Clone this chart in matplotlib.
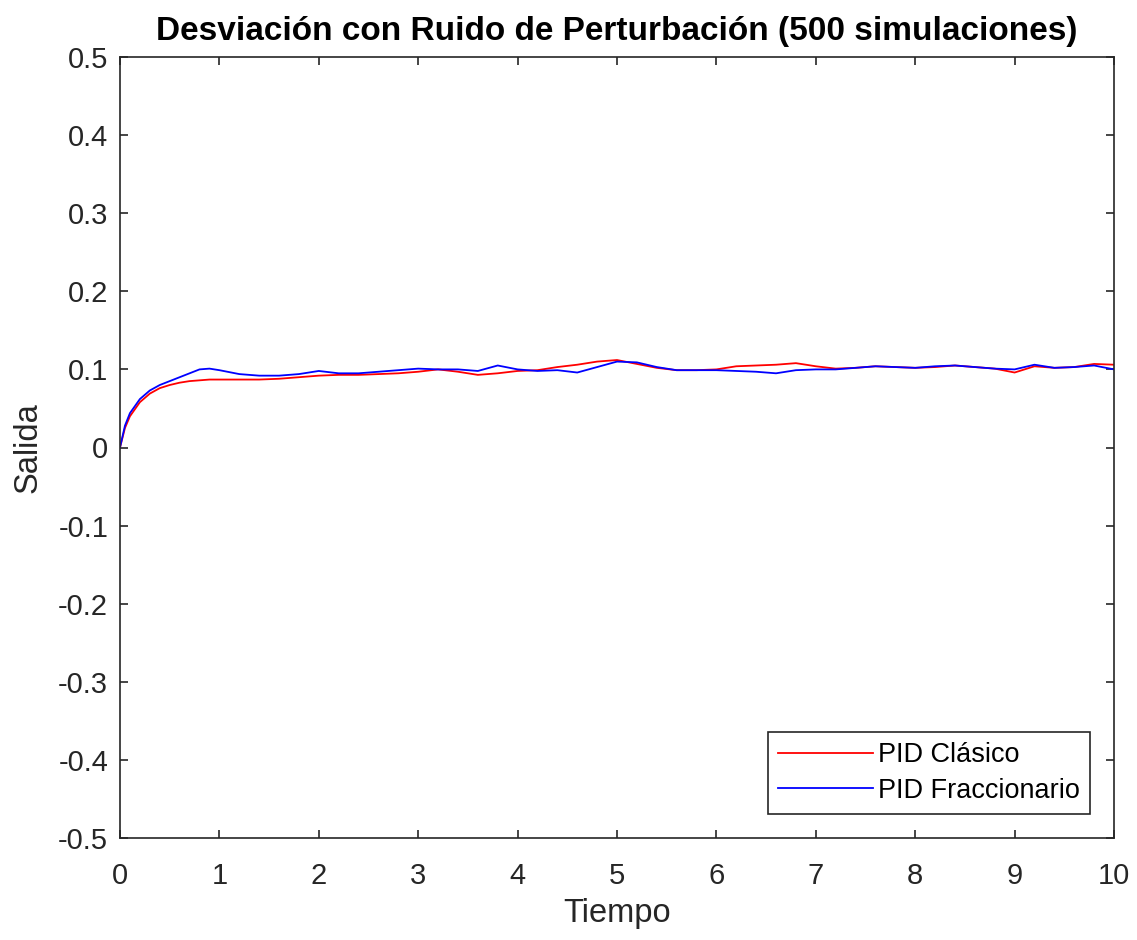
import numpy as np
import matplotlib.pyplot as plt

plt.rcParams['font.family'] = ['Liberation Sans', 'DejaVu Sans']

# mean deviation over 500 noisy runs
t = [0, 0.05, 0.1, 0.2, 0.3, 0.4, 0.5, 0.6, 0.7, 0.8, 0.9, 1.0, 1.2, 1.4, 1.6, 1.8,
     2.0, 2.2, 2.4, 2.6, 2.8, 3.0, 3.2, 3.4, 3.6, 3.8, 4.0, 4.2, 4.4, 4.6, 4.8, 5.0,
     5.2, 5.4, 5.6, 5.8, 6.0, 6.2, 6.4, 6.6, 6.8, 7.0, 7.2, 7.4, 7.6, 7.8, 8.0, 8.2,
     8.4, 8.6, 8.8, 9.0, 9.2, 9.4, 9.6, 9.8, 10.0]

pid_clasico = [0, 0.025, 0.040, 0.058, 0.069, 0.076, 0.080, 0.083, 0.085, 0.086, 0.087,
               0.087, 0.087, 0.087, 0.088, 0.090, 0.092, 0.093, 0.093, 0.094, 0.095, 0.097,
               0.100, 0.097, 0.093, 0.095, 0.098, 0.099, 0.103, 0.106, 0.110, 0.112, 0.107,
               0.102, 0.099, 0.099, 0.100, 0.104, 0.105, 0.106, 0.108, 0.104, 0.101, 0.102,
               0.104, 0.103, 0.102, 0.103, 0.105, 0.103, 0.101, 0.096, 0.104, 0.102, 0.103,
               0.107, 0.106]

pid_fracc = [0, 0.028, 0.044, 0.062, 0.073, 0.080, 0.085, 0.090, 0.095, 0.100, 0.101,
             0.099, 0.094, 0.092, 0.092, 0.094, 0.098, 0.095, 0.095, 0.097, 0.099, 0.101,
             0.100, 0.100, 0.098, 0.105, 0.100, 0.098, 0.099, 0.096, 0.103, 0.110, 0.109,
             0.103, 0.099, 0.099, 0.099, 0.098, 0.097, 0.095, 0.099, 0.100, 0.100, 0.102,
             0.104, 0.103, 0.102, 0.104, 0.105, 0.103, 0.101, 0.100, 0.106, 0.102, 0.103,
             0.105, 0.100]

xticks = list(range(0, 11))
yticks = [-0.5, -0.4, -0.3, -0.2, -0.1, 0, 0.1, 0.2, 0.3, 0.4, 0.5]
ytick_labels = ['-0.5', '-0.4', '-0.3', '-0.2', '-0.1', '0', '0.1', '0.2', '0.3', '0.4', '0.5']

fig = plt.figure(figsize=(11.37, 9.40), dpi=100)
ax = fig.add_axes([120/1137, 1 - 838/940, (1114-120)/1137, (838-57)/940])

ax.plot(t, pid_clasico, color=(1, 0, 0), lw=1.3, label='PID Clásico')
ax.plot(t, pid_fracc, color=(0, 0, 1), lw=1.3, label='PID Fraccionario')

ax.set_xlim(0, 10)
ax.set_ylim(-0.5, 0.5)
ax.set_xticks(xticks)
ax.set_yticks(yticks)
ax.set_yticklabels(ytick_labels)

gray = (0.15, 0.15, 0.15)
for s in ax.spines.values():
    s.set_color(gray)
    s.set_linewidth(1.2)
ax.tick_params(direction='in', length=6, width=1.2, top=True, right=True,
               labelsize=21, colors=gray)
ax.tick_params(axis='x', pad=17.5)
ax.tick_params(axis='y', pad=8.5)

ax.set_xlabel('Tiempo', fontsize=23.5, color=gray)
ax.set_ylabel('Salida', fontsize=23.5, color=gray)
ax.xaxis.set_label_coords(0.5, -0.0768)
ax.yaxis.set_label_coords(-0.0765, 0.5)
ax.set_title('Desviación con Ruido de Perturbación (500 simulaciones)',
             fontsize=24, fontweight='bold', pad=12)

leg = ax.legend(loc='lower right', fontsize=19.5, fancybox=False, framealpha=1,
                edgecolor=gray, borderaxespad=0.9, handlelength=3.5,
                handletextpad=0.2, borderpad=0.36, labelspacing=0.36)
leg.get_frame().set_linewidth(1.2)

fig.savefig('out.png', dpi=100)
